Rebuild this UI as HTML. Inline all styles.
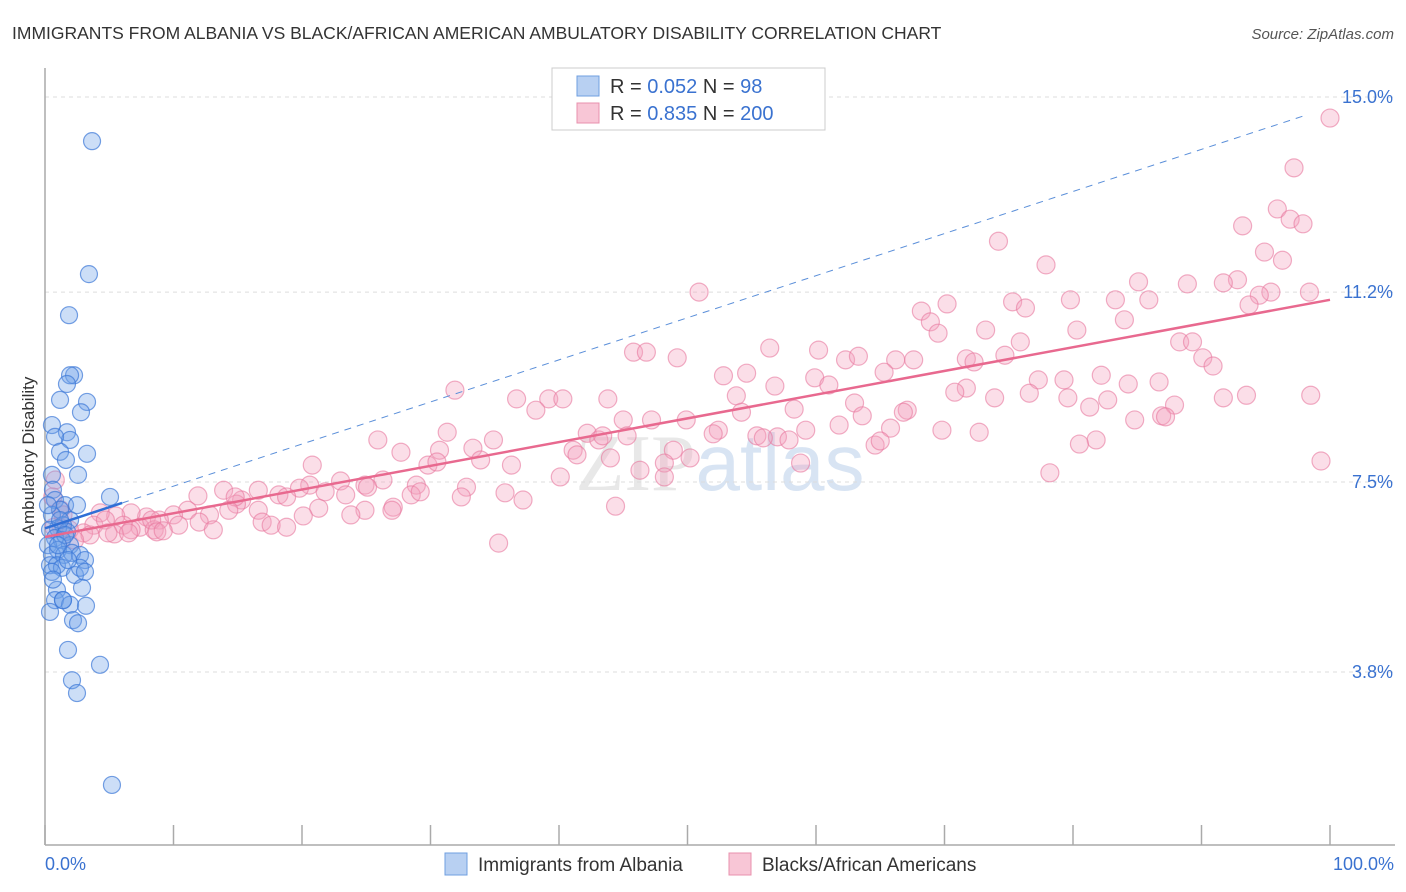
<!DOCTYPE html>
<html><head><meta charset="utf-8"><style>
body{margin:0;background:#fff;font-family:"Liberation Sans",sans-serif;}
svg{display:block}
</style></head><body>
<svg id="chart" width="1406" height="892">
<text x="12" y="39" font-size="17.5" fill="#333">IMMIGRANTS FROM ALBANIA VS BLACK/AFRICAN AMERICAN AMBULATORY DISABILITY CORRELATION CHART</text>
<text x="1394" y="39" font-size="15" fill="#555" font-style="italic" text-anchor="end">Source: ZipAtlas.com</text>
<text x="34" y="456" font-size="17" fill="#333" text-anchor="middle" transform="rotate(-90 34 456)">Ambulatory Disability</text>
<text x="720" y="490" font-size="80" fill="#e8e8e8" text-anchor="middle" font-family="Liberation Serif,serif">ZIP<tspan fill="#d8e4f3" font-family="Liberation Sans,sans-serif">atlas</tspan></text>
<g id="grid"></g><g id="axes"></g><g id="pts"></g><g id="lines"></g>
<g>
<rect x="552" y="68" width="273" height="62" fill="#fff" stroke="#ccc"/>
<rect x="577" y="76" width="22" height="20" fill="#b8d0f2" stroke="#6f9fe0"/>
<rect x="577" y="103" width="22" height="20" fill="#f8c6d6" stroke="#e890ad"/>
<text x="610" y="93" font-size="20" fill="#333">R = <tspan fill="#3a72d0">0.052</tspan>   N =  <tspan fill="#3a72d0">  98</tspan></text>
<text x="610" y="120" font-size="20" fill="#333">R = <tspan fill="#3a72d0">0.835</tspan>   N = <tspan fill="#3a72d0">200</tspan></text>
</g>
<g>
<rect x="445" y="853" width="22" height="22" fill="#b8d0f2" stroke="#6f9fe0"/>
<text x="478" y="871" font-size="19" fill="#333">Immigrants from Albania</text>
<rect x="729" y="853" width="22" height="22" fill="#f8c6d6" stroke="#e890ad"/>
<text x="762" y="871" font-size="19" fill="#333">Blacks/African Americans</text>
</g>
</svg>
<script>
const yTicks=[15.0,11.2,7.5,3.8];
const yTickLabels=["15.0%","11.2%","7.5%","3.8%"];
const xTickCount=10;
const blueX=[3.66,3.42,1.87,2.26,1.95,1.71,3.27,1.17,2.80,0.54,1.71,1.95,0.78,1.17,3.27,1.63,2.57,0.54,0.62,5.06,0.78,1.56,2.49,1.17,0.54,1.95,1.40,1.01,0.39,1.71,0.78,1.32,0.23,1.95,1.01,0.54,1.48,2.10,2.72,0.39,0.93,1.32,3.11,0.54,2.33,2.72,3.11,0.93,2.88,0.78,1.40,1.95,3.19,0.39,2.18,2.57,1.79,4.28,2.10,2.49,5.21,0.23,1.17,1.56,1.01,1.79,0.62,1.40];
const blueY=[14.14,11.55,10.75,9.58,9.58,9.41,9.06,9.10,8.86,8.61,8.47,8.32,8.38,8.09,8.05,7.93,7.64,7.64,7.35,7.21,7.15,7.05,7.05,6.96,6.86,6.76,6.66,6.60,6.57,6.53,6.41,6.37,6.27,6.27,6.18,6.08,6.08,6.12,6.08,5.88,5.88,5.83,5.98,5.75,5.69,5.83,5.75,5.40,5.44,5.20,5.20,5.11,5.09,4.97,4.81,4.75,4.23,3.94,3.64,3.39,1.60,7.05,6.76,6.47,6.27,5.98,5.60,5.20];
const pinkX=[100.0,97.2,95.9,96.9,97.9,93.2,74.2,94.9,96.3,77.9,85.1,88.9,92.8,91.7,50.9,95.4,98.4,94.5,75.3,79.8,83.3,85.9,76.3,70.2,68.2,93.7,68.9,84.0,80.3,73.2,69.5,88.3,89.3,75.9,45.8,46.8,56.4,60.2,74.7,90.1,49.2,62.3,63.3,66.2,67.6,71.7,72.3,90.9,65.3,52.8,54.6,59.9,77.3,79.3,82.2,86.7,61.0,56.8,71.7,70.8,84.3,76.6,31.9,53.8,63.0,73.9,79.6,82.7,39.2,40.3,36.7,43.8,38.2,91.7,93.5,98.5,58.3,67.1,81.3,87.9,63.6,66.8,45.0,47.2,49.9,54.2,84.8,86.9,87.2,52.4,42.2,45.3,52.0,55.4,57.0,59.2,61.8,65.8,69.8,72.7,31.3,25.9,34.9,43.1,43.4,81.8,64.6,65.0,27.7,30.7,33.3,41.1,41.4,48.9,50.2,55.9,57.9,20.8,29.8,30.5,33.9,36.3,44.0,48.2,58.8,80.5,78.2,99.3,26.3,40.1,46.3,48.2,20.6,23.0,24.9,19.8,16.6,25.1,13.9,28.9,32.8,35.8,37.2,11.9,15.3,18.2,21.8,23.4,28.5,29.2,32.4,14.9,18.8,14.8,27.1,21.3,14.3,11.1,16.6,20.1,12.8,10.0,7.9,6.7,5.5,4.3,24.9,23.8,44.4,27.0,3.8,4.7,6.1,7.4,8.9,10.4,12.0,13.1,16.9,17.6,18.8,8.5,6.7,8.3,8.7,9.2,5.4,6.5,3.0,1.9,1.3,0.7,3.5,2.3,1.2,0.8,0.6,1.4,35.3,4.9];
const pinkY=[14.59,13.62,12.82,12.62,12.53,12.49,12.19,11.98,11.82,11.73,11.40,11.36,11.44,11.38,11.20,11.20,11.20,11.14,11.01,11.05,11.05,11.05,10.89,10.97,10.83,10.95,10.62,10.66,10.46,10.46,10.40,10.23,10.23,10.23,10.03,10.03,10.11,10.07,9.97,9.92,9.92,9.88,9.95,9.88,9.88,9.90,9.84,9.76,9.64,9.57,9.62,9.53,9.49,9.49,9.58,9.45,9.39,9.37,9.33,9.25,9.41,9.23,9.29,9.18,9.04,9.14,9.14,9.10,9.12,9.12,9.12,9.12,8.90,9.14,9.19,9.19,8.92,8.90,8.96,9.00,8.79,8.86,8.71,8.71,8.71,8.86,8.71,8.79,8.77,8.51,8.45,8.40,8.44,8.40,8.38,8.51,8.61,8.55,8.51,8.47,8.47,8.32,8.32,8.32,8.40,8.32,8.22,8.30,8.08,8.12,8.16,8.12,8.03,8.12,7.97,8.36,8.32,7.83,7.83,7.89,7.93,7.83,7.97,7.87,7.87,8.24,7.68,7.91,7.54,7.60,7.73,7.60,7.44,7.52,7.44,7.38,7.34,7.40,7.34,7.44,7.40,7.29,7.15,7.23,7.15,7.25,7.31,7.25,7.25,7.31,7.21,7.07,7.21,7.21,7.01,6.99,6.95,6.95,6.95,6.84,6.86,6.86,6.82,6.90,6.84,6.90,6.95,6.86,7.03,6.95,6.66,6.76,6.66,6.62,6.76,6.66,6.72,6.57,6.72,6.66,6.62,6.57,6.57,6.76,6.53,6.55,6.49,6.51,6.51,6.57,6.60,6.62,6.47,6.37,6.96,7.54,7.21,6.86,6.31,6.51];
const blueTrend=[6.60,0.082];
const pinkTrend=[6.43,11.05];
const NS="http://www.w3.org/2000/svg";
const X0=45,X1=1330,YT=97,PPU=51.34;
const xs=v=>X0+(X1-X0)*v/100;
const ys=v=>YT+(15-v)*PPU;
function mk(tag,attrs,parent){const e=document.createElementNS(NS,tag);for(const k in attrs)e.setAttribute(k,attrs[k]);parent.appendChild(e);return e;}
const grid=document.getElementById('grid'),axes=document.getElementById('axes'),pts=document.getElementById('pts'),lines=document.getElementById('lines');
yTicks.forEach((t,i)=>{
 const l=mk('line',{x1:X0,x2:1395,y1:ys(t),y2:ys(t),stroke:'#ddd','stroke-dasharray':'4,4'},grid);
 
 
 const tx=mk('text',{x:1393,y:ys(t)+6,'font-size':18,fill:'#3a72d0','text-anchor':'end'},grid);
 tx.textContent=yTickLabels[i];
 
 
});
const ya=mk('line',{x1:X0,x2:X0,y1:68,y2:845,stroke:'#aaa','stroke-width':1.5},axes);


const xa=mk('line',{x1:X0,x2:1395,y1:845,y2:845,stroke:'#aaa','stroke-width':1.5},axes);


for(let i=0;i<=xTickCount;i++){
 const tk=mk('line',{x1:xs(i*10),x2:xs(i*10),y1:825,y2:845,stroke:'#aaa','stroke-width':1.5},axes);
 
 
}
const xl0=mk('text',{x:45,y:870,'font-size':18,fill:'#3a72d0'},axes);xl0.textContent='0.0%';


const xl1=mk('text',{x:1394,y:870,'font-size':18,fill:'#3a72d0','text-anchor':'end'},axes);xl1.textContent='100.0%';


pinkX.forEach((x,i)=>{
 const c=mk('circle',{cx:xs(x),cy:ys(pinkY[i]),r:9,fill:'rgba(244,160,188,0.35)',stroke:'rgba(232,120,158,0.6)','stroke-width':1.2},pts);
 
 
});
blueX.forEach((x,i)=>{
 const c=mk('circle',{cx:xs(x),cy:ys(blueY[i]),r:8.5,fill:'rgba(110,160,232,0.35)',stroke:'rgba(60,120,215,0.7)','stroke-width':1.2},pts);
 
 
});
const bl=mk('line',{x1:xs(0),y1:ys(blueTrend[0]),x2:xs(6),y2:ys(blueTrend[0]+6*blueTrend[1]),stroke:'#2f6fd6','stroke-width':2.5},lines);


const bd=mk('line',{x1:xs(6),y1:ys(blueTrend[0]+6*blueTrend[1]),x2:xs(98),y2:ys(blueTrend[0]+98*blueTrend[1]),stroke:'#5b8fd9','stroke-width':1,'stroke-dasharray':'7,6'},lines);


const pl=mk('line',{x1:xs(0),y1:ys(pinkTrend[0]),x2:xs(100),y2:ys(pinkTrend[1]),stroke:'#e8698f','stroke-width':2.5},lines);


</script>
</body></html>
